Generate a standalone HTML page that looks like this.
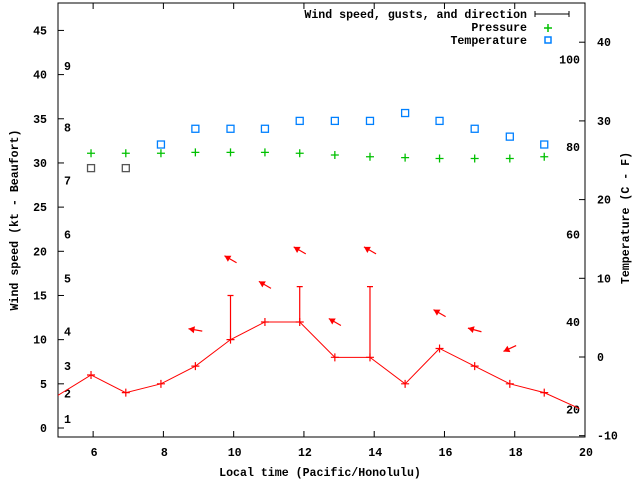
<!DOCTYPE html>
<html><head><meta charset="utf-8"><style>
body{margin:0;background:#fff}
svg text{font-family:"Liberation Mono",monospace;font-size:11.6px;font-weight:bold;fill:#000}
</style></head><body>
<svg id="c" width="640" height="480" xmlns="http://www.w3.org/2000/svg">
<rect width="640" height="480" fill="#fff"/>
<g id="axes"></g><g id="plot"></g>
</svg>
<script>
const times=[5.94,6.93,7.93,8.91,9.91,10.89,11.88,12.88,13.88,14.88,15.86,16.86,17.86,18.84];
const wind=[6,4,5,7,10,12,12,8,8,5,9,7,5,4];
const windEdgeTimes=[4.94,19.84];
const windEdge=[3.55,2.2];
const gustTimes=[9.91,11.88,13.88];
const gusts=[15,16,16];
const arrowTimes=[8.91,9.91,10.89,11.88,12.88,13.88,15.86,16.86,17.86];
const arrowLevels=[11.1,19.1,16.2,20.1,12.0,20.1,13.0,11.1,9.0];
const arrowDirs=[170,150,150,150,150,150,150,165,205];
const pressure=[31.1,31.1,31.1,31.2,31.2,31.2,31.1,30.9,30.7,30.6,30.5,30.5,30.5,30.7];
const temperature=[24,24,27,29,29,29,30,30,30,31,30,29,28,27];
const xTicks=[6,8,10,12,14,16,18,20];
const yTicks=[0,5,10,15,20,25,30,35,40,45];
const cTicks=[-10,0,10,20,30,40];
const fTicks=[20,40,60,80,100];
const beaufort=["1","2","3","4","5","6","7","8","9"];
const beaufortKt=[1,3.9,7,10.9,16.9,21.9,28,34,41];

const L=58,R=585,T=3,B=437;
const X=t=>L+(t-5)*(R-L)/15;
const Y=v=>428-v*8.835;
const YC=c=>357-c*7.87;
const NS="http://www.w3.org/2000/svg";
const ax=document.getElementById('axes'),pl=document.getElementById('plot');
function el(p,tag,a,txt){const e=document.createElementNS(NS,tag);for(const k in a)e.setAttribute(k,a[k]);if(txt!==undefined)e.textContent=txt;p.appendChild(e);return e;}

const fr=el(ax,'rect',{x:L,y:T,width:R-L,height:B-T,fill:'none',stroke:'#000','stroke-width':1});


xTicks.forEach(t=>{
  const x=X(t);
  const l=el(ax,'path',{d:`M${x} ${B}v-6M${x} ${T}v6`,stroke:'#000'});
  
  
  const tx=el(ax,'text',{x:x+1,y:B+19,'text-anchor':'middle'},String(t));
  
  
});
yTicks.forEach(v=>{
  const y=Y(v);
  const l=el(ax,'path',{d:`M${L} ${y}h6`,stroke:'#000'});
  
  
  const tx=el(ax,'text',{x:L-11,y:y+4,'text-anchor':'end'},String(v));
  
  
});
cTicks.forEach(c=>{
  const y=YC(c);
  const l=el(ax,'path',{d:`M${R} ${y}h-6`,stroke:'#000'});
  
  
  const tx=el(ax,'text',{x:R+12,y:y+4},String(c));
  
  
});
fTicks.forEach(f=>{
  const tx=el(ax,'text',{x:580,y:YC((f-32)*5/9)+4,'text-anchor':'end'},String(f));
  
  
});
beaufort.forEach((b,i)=>{
  const tx=el(ax,'text',{x:64,y:Y(beaufortKt[i])+4},b);
  
  
});
let t1=el(ax,'text',{x:320,y:476,'text-anchor':'middle'},'Local time (Pacific/Honolulu)');

let t2=el(ax,'text',{x:0,y:0,'text-anchor':'middle',transform:'translate(18,220) rotate(-90)'},'Wind speed (kt - Beaufort)');

let t3=el(ax,'text',{x:0,y:0,'text-anchor':'middle',transform:'translate(629,218) rotate(-90)'},'Temperature (C - F)');


let g1=el(ax,'text',{x:527,y:18,'text-anchor':'end'},'Wind speed, gusts, and direction');

let g1s=el(ax,'path',{d:'M535 14h34M535 11v6M569 11v6',stroke:'#000'});

let g2=el(ax,'text',{x:527,y:31,'text-anchor':'end'},'Pressure');

let g2s=el(ax,'path',{d:'M548 24v8M544 28h8',stroke:'#00c000','stroke-width':1.5});

let g3=el(ax,'text',{x:527,y:44,'text-anchor':'end'},'Temperature');

let g3s=el(ax,'rect',{x:545,y:37,width:6,height:6,fill:'none',stroke:'#0080ff','stroke-width':1.5});


const defs=el(pl,'defs',{});
const cp=el(defs,'clipPath',{id:'cp'});el(cp,'rect',{x:L,y:T,width:R-L,height:B-T});
const pg=el(pl,'g',{'clip-path':'url(#cp)'});

const all=[[windEdgeTimes[0],windEdge[0]]].concat(times.map((t,i)=>[t,wind[i]]),[[windEdgeTimes[1],windEdge[1]]]);
const wl=el(pg,'polyline',{points:all.map(p=>X(p[0])+','+Y(p[1])).join(' '),fill:'none',stroke:'#f00','stroke-width':1});

times.forEach((t,i)=>{
  const x=X(t),y=Y(wind[i]);
  const m=el(pg,'path',{d:`M${x-4} ${y}h8M${x} ${y-4}v8`,stroke:'#f00','stroke-width':1.2});
  
});
gustTimes.forEach((t,i)=>{
  const x=X(t),i0=times.indexOf(t),y0=Y(wind[i0]),y1=Y(gusts[i]);
  const m=el(pg,'path',{d:`M${x} ${y0}V${y1}M${x-3} ${y1}h6`,stroke:'#f00','stroke-width':1.2});
  
});
arrowTimes.forEach((t,i)=>{
  const cx=X(t),cy=Y(arrowLevels[i]);
  const a=arrowDirs[i]*Math.PI/180, dx=Math.cos(a), dy=-Math.sin(a);
  const hx=cx+dx*7, hy=cy+dy*7, tx=cx-dx*7, ty=cy-dy*7;
  const px=-dy, py=dx;
  const g=el(pg,'g',{});
  
  el(g,'path',{d:`M${tx} ${ty}L${hx} ${hy}`,stroke:'#f00','stroke-width':1.2});
  el(g,'path',{d:`M${hx} ${hy}L${hx-dx*6+px*3.5} ${hy-dy*6+py*3.5}L${hx-dx*6-px*3.5} ${hy-dy*6-py*3.5}Z`,fill:'#f00'});
});
times.forEach((t,i)=>{
  const x=X(t),y=Y(pressure[i]);
  const m=el(pg,'path',{d:`M${x-4} ${y}h8M${x} ${y-4}v8`,stroke:'#00c000','stroke-width':1.3});
  
});
times.forEach((t,i)=>{
  const x=X(t),y=YC(temperature[i]);
  const m=el(pg,'rect',{x:x-3.5,y:y-3.5,width:7,height:7,fill:'none',stroke:i<2?'#555':'#0080ff','stroke-width':1.3});
  
});
</script>
</body></html>
